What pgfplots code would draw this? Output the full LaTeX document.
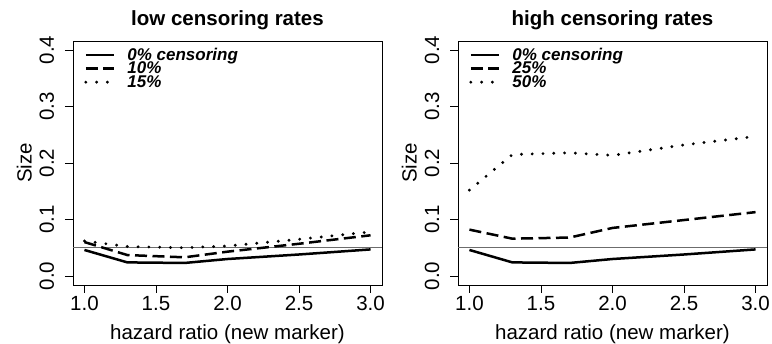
\documentclass[border=0pt]{standalone}
\usepackage{fontspec}
\setmainfont{Liberation Sans}
\usepackage{pgfplots}
\pgfplotsset{compat=1.18}
\pgfplotsset{
  rpanel/.style={
    scale only axis, width=309pt, height=244pt,
    xmin=0.92, xmax=3.08, ymin=-0.016, ymax=0.416,
    xtick={1,1.5,2,2.5,3}, ytick={0,0.1,0.2,0.3,0.4},
    axis line style={line width=0.8pt},
    tick style={line width=0.8pt, black},
    major tick length=8pt, tick align=outside,
    xtick pos=bottom, ytick pos=left,
    ticklabel style={font=\fontsize{20.5}{20.5}\selectfont,
      /pgf/number format/fixed, /pgf/number format/fixed zerofill,
      /pgf/number format/precision=1, /pgf/number format/assume math mode=true},
    yticklabel style={rotate=90, anchor=base, inner sep=0pt},
    yticklabel shift=11pt,
    title style={at={(axis description cs:0.5,1.0389)}, anchor=base, inner sep=0pt, font=\fontsize{20.5}{20.5}\selectfont\bfseries},
    xlabel style={at={(axis description cs:0.5,-0.2234)}, anchor=base, inner sep=0pt, font=\fontsize{20.5}{20.5}\selectfont},
    ylabel style={at={(axis description cs:-0.1337,0.5)}, anchor=base, inner sep=0pt, font=\fontsize{20.5}{20.5}\selectfont},
    legend style={at={(axis description cs:0,1)}, anchor=north west, xshift=11pt, yshift=-9pt,
      draw=none, fill=none, inner sep=0pt, row sep=3.5pt, column sep=12pt,
      font=\fontsize{17}{17}\selectfont\bfseries\itshape,
      nodes={inner sep=0pt, text height=10pt, text depth=0pt}},
    legend cell align=left,
    legend image code/.code={\draw[##1] (0pt,0pt) -- (28pt,0pt);},
    xlabel={hazard ratio (new marker)}, ylabel={Size},
  },
  solidR/.style={black, line width=2.5pt, line join=round},
  dashR/.style={black, line width=2.5pt, dash pattern=on 12pt off 5.5pt},
  dotR/.style={black, line width=3.2pt, line cap=round, dash pattern=on 0pt off 10.8pt},
  refR/.style={gray!85!black, line width=0.8pt, forget plot},
}
\begin{document}
\begin{tikzpicture}
\useasboundingbox (0,0) rectangle (772pt,344pt);
\begin{axis}[rpanel, at={(73pt,59pt)}, anchor=south west, title={low censoring rates}]
\addplot[refR] coordinates {(0.92,0.05) (3.08,0.05)};
\addplot[solidR] coordinates {(1.0,0.046) (1.3,0.024) (1.7,0.023) (2.0,0.030) (2.5,0.038) (3.0,0.047)};
\addplot[dashR] coordinates {(1.0,0.060) (1.3,0.037) (1.7,0.033) (2.0,0.043) (2.5,0.057) (3.0,0.072)};
\addplot[dotR] coordinates {(1.0,0.062) (1.3,0.052) (1.7,0.050) (2.0,0.053) (2.5,0.065) (3.0,0.078)};
\legend{0\% censoring,10\%,15\%}
\end{axis}
\begin{axis}[rpanel, at={(458pt,59pt)}, anchor=south west, title={high censoring rates}]
\addplot[refR] coordinates {(0.92,0.05) (3.08,0.05)};
\addplot[solidR] coordinates {(1.0,0.046) (1.3,0.024) (1.7,0.023) (2.0,0.030) (2.5,0.038) (3.0,0.047)};
\addplot[dashR] coordinates {(1.0,0.082) (1.3,0.066) (1.7,0.068) (2.0,0.085) (2.5,0.099) (3.0,0.113)};
\addplot[dotR] coordinates {(1.0,0.152) (1.3,0.215) (1.7,0.218) (2.0,0.2135) (2.5,0.232) (3.0,0.247)};
\legend{0\% censoring,25\%,50\%}
\end{axis}
\end{tikzpicture}
\end{document}
